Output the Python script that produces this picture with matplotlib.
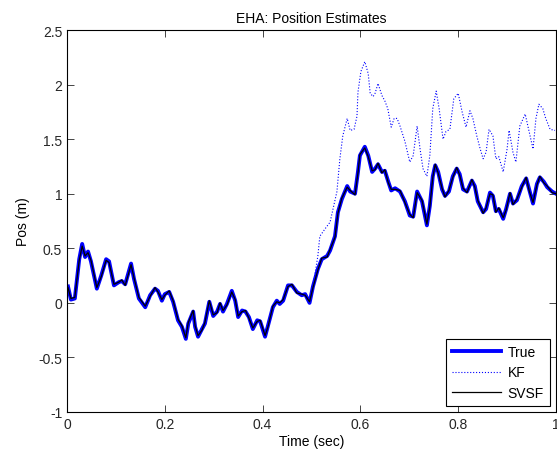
import matplotlib
matplotlib.use("Agg")
import matplotlib.pyplot as plt

# true position
true_time = [0.002, 0.008, 0.016, 0.025, 0.031, 0.037, 0.043, 0.049, 0.061, 0.070,
             0.080, 0.086, 0.096, 0.106, 0.112, 0.119, 0.131, 0.137, 0.147, 0.160,
             0.170, 0.180, 0.186, 0.194, 0.200, 0.209, 0.217, 0.227, 0.235, 0.243,
             0.248, 0.258, 0.262, 0.268, 0.276, 0.282, 0.291, 0.299, 0.307, 0.313,
             0.319, 0.327, 0.337, 0.344, 0.350, 0.358, 0.365, 0.372, 0.380, 0.389,
             0.395, 0.405, 0.411, 0.421, 0.429, 0.435, 0.442, 0.452, 0.460, 0.470,
             0.480, 0.487, 0.496, 0.503, 0.513, 0.521, 0.532, 0.538, 0.548, 0.554,
             0.562, 0.573, 0.579, 0.589, 0.595, 0.599, 0.609, 0.616, 0.624, 0.630,
             0.636, 0.644, 0.650, 0.657, 0.663, 0.671, 0.681, 0.691, 0.701, 0.708,
             0.716, 0.726, 0.736, 0.742, 0.748, 0.753, 0.759, 0.767, 0.773, 0.781,
             0.789, 0.797, 0.803, 0.810, 0.818, 0.828, 0.834, 0.840, 0.851, 0.857,
             0.865, 0.871, 0.877, 0.883, 0.892, 0.898, 0.906, 0.912, 0.920, 0.930,
             0.939, 0.945, 0.953, 0.961, 0.967, 0.975, 0.982, 0.992, 1.000]
true_pos = [0.15, 0.03, 0.04, 0.40, 0.54, 0.42, 0.47, 0.38, 0.13, 0.25,
            0.40, 0.38, 0.16, 0.19, 0.20, 0.17, 0.36, 0.22, 0.04, -0.04,
            0.07, 0.13, 0.11, 0.02, 0.08, 0.10, 0.01, -0.16, -0.22, -0.33,
            -0.19, -0.08, -0.22, -0.31, -0.24, -0.19, 0.01, -0.12, -0.08, -0.01,
            -0.08, -0.01, 0.11, 0.02, -0.13, -0.07, -0.08, -0.13, -0.24, -0.16,
            -0.17, -0.31, -0.21, -0.04, 0.02, -0.01, 0.02, 0.16, 0.16, 0.10,
            0.07, 0.08, 0.00, 0.15, 0.31, 0.40, 0.43, 0.48, 0.61, 0.83,
            0.95, 1.07, 1.02, 1.00, 1.20, 1.35, 1.43, 1.35, 1.20, 1.23,
            1.27, 1.20, 1.21, 1.11, 1.03, 1.05, 1.02, 0.93, 0.80, 0.79,
            1.02, 0.93, 0.71, 0.89, 1.16, 1.26, 1.20, 1.04, 0.98, 1.02,
            1.16, 1.23, 1.18, 1.04, 1.02, 1.12, 1.07, 0.93, 0.83, 0.86,
            1.01, 0.98, 0.84, 0.86, 0.77, 0.86, 1.00, 0.91, 0.94, 1.07,
            1.14, 1.04, 0.91, 1.09, 1.15, 1.11, 1.06, 1.02, 1.00]

# svsf estimate sits on top of the true curve
svsf_pos = [0.14, 0.04, 0.05, 0.39, 0.52, 0.43, 0.46, 0.39, 0.14, 0.24,
            0.39, 0.37, 0.17, 0.19, 0.21, 0.16, 0.35, 0.23, 0.05, -0.03,
            0.06, 0.14, 0.10, 0.03, 0.07, 0.11, 0.02, -0.15, -0.21, -0.32,
            -0.18, -0.07, -0.21, -0.30, -0.25, -0.18, 0.02, -0.11, -0.09, 0.00,
            -0.07, -0.02, 0.10, 0.03, -0.12, -0.08, -0.07, -0.14, -0.23, -0.17,
            -0.16, -0.30, -0.22, -0.03, 0.01, 0.00, 0.03, 0.15, 0.17, 0.09,
            0.08, 0.07, 0.01, 0.14, 0.30, 0.41, 0.42, 0.49, 0.60, 0.82,
            0.96, 1.06, 1.03, 0.99, 1.19, 1.36, 1.42, 1.34, 1.21, 1.22,
            1.28, 1.19, 1.22, 1.10, 1.04, 1.04, 1.03, 0.92, 0.81, 0.78,
            1.01, 0.94, 0.72, 0.88, 1.15, 1.27, 1.19, 1.05, 0.97, 1.03,
            1.15, 1.24, 1.17, 1.05, 1.01, 1.13, 1.06, 0.94, 0.82, 0.87,
            1.00, 0.99, 0.83, 0.87, 0.78, 0.85, 1.01, 0.90, 0.95, 1.06,
            1.15, 1.03, 0.92, 1.08, 1.16, 1.10, 1.07, 1.01, 1.00]

# kf estimate after it leaves the true curve
kf_time_late = [0.513, 0.517, 0.528, 0.538, 0.544, 0.552, 0.558, 0.564, 0.573, 0.579,
                0.587, 0.593, 0.595, 0.601, 0.609, 0.616, 0.620, 0.626, 0.630, 0.636,
                0.644, 0.650, 0.656, 0.663, 0.669, 0.675, 0.681, 0.691, 0.701, 0.708,
                0.716, 0.722, 0.728, 0.736, 0.742, 0.748, 0.755, 0.761, 0.769, 0.775,
                0.783, 0.791, 0.800, 0.808, 0.816, 0.824, 0.830, 0.838, 0.845, 0.851,
                0.857, 0.863, 0.871, 0.877, 0.883, 0.892, 0.900, 0.904, 0.912, 0.918,
                0.926, 0.937, 0.945, 0.953, 0.959, 0.965, 0.973, 0.979, 0.988, 0.998]
kf_pos_late = [0.43, 0.61, 0.68, 0.74, 0.86, 1.02, 1.32, 1.53, 1.69, 1.58,
               1.59, 1.71, 1.93, 2.12, 2.21, 2.10, 1.92, 1.89, 1.92, 2.01,
               1.90, 1.85, 1.78, 1.61, 1.69, 1.69, 1.62, 1.48, 1.29, 1.35,
               1.62, 1.41, 1.23, 1.16, 1.35, 1.78, 1.94, 1.78, 1.50, 1.57,
               1.59, 1.87, 1.92, 1.75, 1.61, 1.76, 1.69, 1.53, 1.41, 1.32,
               1.38, 1.59, 1.53, 1.32, 1.34, 1.20, 1.41, 1.58, 1.38, 1.29,
               1.62, 1.73, 1.57, 1.41, 1.69, 1.82, 1.78, 1.69, 1.59, 1.58]

# before t=0.51 the kf follows the true curve
n_early = sum(1 for t in true_time if t <= 0.507)
kf_time = true_time[:n_early] + kf_time_late
kf_pos = true_pos[:n_early] + kf_pos_late

xticks = [0, 0.2, 0.4, 0.6, 0.8, 1]
xtick_labels = ['0', '0.2', '0.4', '0.6', '0.8', '1']
yticks = [-1, -0.5, 0, 0.5, 1, 1.5, 2, 2.5]
ytick_labels = ['-1', '-0.5', '0', '0.5', '1', '1.5', '2', '2.5']

plt.rcParams['font.family'] = ['Liberation Sans', 'DejaVu Sans']
plt.rcParams['font.size'] = 10

fig = plt.figure(figsize=(5.57, 4.56), dpi=100)
ax = fig.add_axes([0.1203, 0.0943, 0.8779, 0.8377])

ax.plot(true_time, true_pos, color='#0000ff', lw=2.8, label='True')
ax.plot(kf_time, kf_pos, color='#0000ff', lw=0.8, ls=':', label='KF')
ax.plot(true_time, svsf_pos, color='black', lw=0.9, label='SVSF')

ax.set_xlim(0, 1)
ax.set_ylim(-1, 2.5)
ax.set_xticks(xticks)
ax.set_xticklabels(xtick_labels)
ax.set_yticks(yticks)
ax.set_yticklabels(ytick_labels)
ax.tick_params(direction='in', length=5, width=0.6, top=True, right=True,
               labelsize=10, colors='#262626')
for s in ax.spines.values():
    s.set_linewidth(0.8)

ax.set_title('EHA: Position Estimates', fontsize=10, pad=6)
ax.set_xlabel('Time (sec)', fontsize=10, labelpad=2)
ax.set_ylabel('Pos (m)', fontsize=10, labelpad=6)

# legend box roughly 442-550 px wide, 343-407 px tall in the reference
leg = ax.legend(loc='lower right', bbox_to_anchor=(0.988, 0.016), fancybox=False,
                edgecolor='black', framealpha=1, handlelength=3.5, borderpad=0.45,
                labelspacing=0.45, handletextpad=0.5, borderaxespad=0, fontsize=10)
leg.get_frame().set_linewidth(0.8)

fig.savefig('out.png', dpi=100)
